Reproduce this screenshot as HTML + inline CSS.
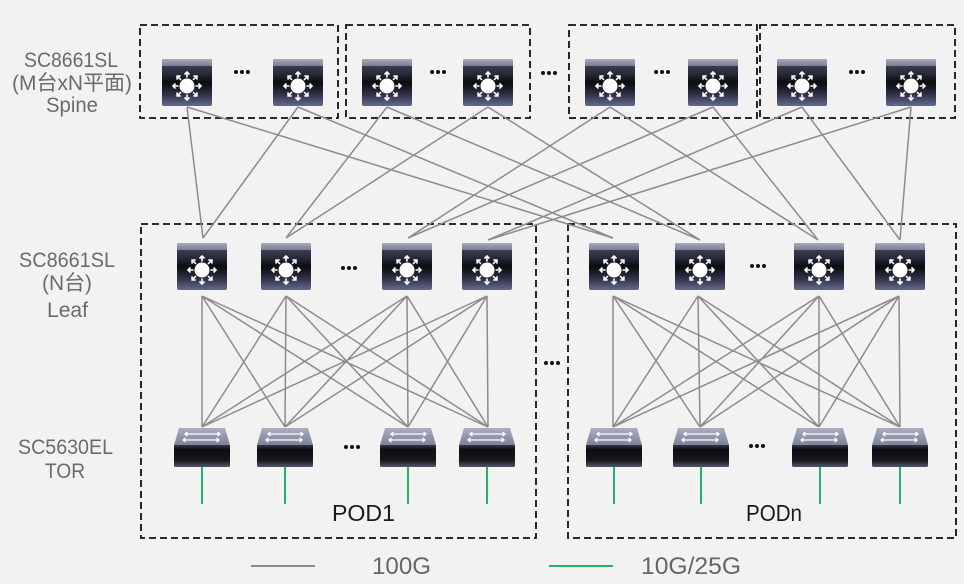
<!DOCTYPE html>
<html><head><meta charset="utf-8"><style>
html,body{margin:0;padding:0;background:#f2f2f2;}
svg{display:block;}
text{font-family:"Liberation Sans","Noto Sans CJK SC",sans-serif;}
</style></head><body>
<svg width="964" height="584" viewBox="0 0 964 584" xmlns="http://www.w3.org/2000/svg">
<defs>
<linearGradient id="gTop" x1="0" y1="0" x2="0" y2="1"><stop offset="0" stop-color="#a7aabb"/><stop offset="1" stop-color="#7b7f94"/></linearGradient>
<linearGradient id="gBody" x1="0" y1="0" x2="0" y2="1">
<stop offset="0" stop-color="#474a62"/><stop offset="0.3" stop-color="#2a2c3d"/><stop offset="0.5" stop-color="#0b0b10"/><stop offset="0.75" stop-color="#2e3045"/><stop offset="1" stop-color="#646a8c"/></linearGradient>
<linearGradient id="tTop" x1="0" y1="0" x2="0" y2="1"><stop offset="0" stop-color="#a9adbf"/><stop offset="1" stop-color="#7d8298"/></linearGradient>
<linearGradient id="tFront" x1="0" y1="0" x2="0" y2="1"><stop offset="0" stop-color="#3d3f52"/><stop offset="0.25" stop-color="#0d0d12"/><stop offset="0.7" stop-color="#16161e"/><stop offset="1" stop-color="#52566e"/></linearGradient>
<path id="arr" d="M25 18.5V13M22.5 15.5L25 13L27.5 15.5" fill="none" stroke="#fff" stroke-width="1.6"/>
<g id="l3">
<rect x="0" y="0" width="50" height="47" rx="2" fill="url(#gBody)"/>
<path d="M2 0H48Q50 0 50 2V7H0V2Q0 0 2 0Z" fill="url(#gTop)"/>
<circle cx="25" cy="27" r="7.5" fill="#fff"/>
<use href="#arr" transform="translate(0 0)"/>
<use href="#arr" transform="rotate(45 25 27)"/>
<use href="#arr" transform="rotate(90 25 27)"/>
<use href="#arr" transform="rotate(135 25 27)"/>
<use href="#arr" transform="rotate(180 25 27)"/>
<use href="#arr" transform="rotate(225 25 27)"/>
<use href="#arr" transform="rotate(270 25 27)"/>
<use href="#arr" transform="rotate(315 25 27)"/>
</g>
<g id="tor">
<rect x="0" y="16" width="56" height="23" rx="1.5" fill="url(#tFront)"/>
<path d="M5 0H51L56 17H0Z" fill="url(#tTop)"/>
<g stroke="#fff" stroke-width="1.3" fill="none">
<path d="M11 6H46M43.5 4L46 6L43.5 8"/>
<path d="M11 6M13.5 4L11 6L13.5 8"/>
<path d="M9 12H45M11.5 10L9 12L11.5 14"/>
<path d="M42.5 10L45 12L42.5 14"/>
</g>
</g>
</defs>

<!-- dashed boxes -->
<g fill="none" stroke="#111" stroke-width="1.8" stroke-dasharray="7 4">
<rect x="140" y="25" width="198" height="93"/>
<rect x="346" y="25" width="184" height="93"/>
<rect x="569" y="25" width="188" height="93"/>
<rect x="760" y="25" width="195" height="93"/>
<rect x="141" y="224" width="395" height="314"/>
<rect x="568" y="224" width="388" height="314"/>
</g>

<!-- spine-leaf lines -->
<g stroke="#8c8c8c" stroke-width="1.5" fill="none">
<path d="M187 107L203 238M298 107L203 238M387 107L286 238M488 107L286 238M610 107L408 238M713 107L408 238M802 107L488 240M911 107L488 240M187 107L613 238M298 107L613 238M387 107L700 240M488 107L700 240M610 107L818 240M713 107L818 240M802 107L900 240M911 107L900 240"/>
<!-- left mesh -->
<path d="M202 296L202 427M202 296L285 427M202 296L408 427M202 296L488 427
M286 296L202 427M286 296L285 427M286 296L408 427M286 296L488 427
M407 296L202 427M407 296L285 427M407 296L408 427M407 296L488 427
M487 296L202 427M487 296L285 427M487 296L408 427M487 296L488 427"/>
<!-- right mesh -->
<path d="M613 296L613 427M613 296L700 427M613 296L819 427M613 296L900 427
M698 296L613 427M698 296L700 427M698 296L819 427M698 296L900 427
M819 296L613 427M819 296L700 427M819 296L819 427M819 296L900 427
M899 296L613 427M899 296L700 427M899 296L819 427M899 296L900 427"/>
</g>

<!-- green lines -->
<g stroke="#21b36b" stroke-width="2">
<path d="M202 467V504M285 467V504M408 467V504M487 467V504M614 467V504M701 467V504M820 467V504M900 467V504"/>
</g>

<!-- spine icons -->
<use href="#l3" x="162" y="59"/>
<use href="#l3" x="273" y="59"/>
<use href="#l3" x="362" y="59"/>
<use href="#l3" x="463" y="59"/>
<use href="#l3" x="585" y="59"/>
<use href="#l3" x="688" y="59"/>
<use href="#l3" x="777" y="59"/>
<use href="#l3" x="886" y="59"/>
<!-- leaf icons -->
<use href="#l3" x="177" y="243"/>
<use href="#l3" x="261" y="243"/>
<use href="#l3" x="382" y="243"/>
<use href="#l3" x="462" y="243"/>
<use href="#l3" x="589" y="243"/>
<use href="#l3" x="675" y="243"/>
<use href="#l3" x="794" y="243"/>
<use href="#l3" x="875" y="243"/>
<!-- TOR icons -->
<use href="#tor" x="174" y="428"/>
<use href="#tor" x="257" y="428"/>
<use href="#tor" x="380" y="428"/>
<use href="#tor" x="459" y="428"/>
<use href="#tor" x="586" y="428"/>
<use href="#tor" x="673" y="428"/>
<use href="#tor" x="792" y="428"/>
<use href="#tor" x="872" y="428"/>

<!-- dots -->
<g fill="#111">
<circle cx="236" cy="72" r="2"/><circle cx="242" cy="72" r="2"/><circle cx="248" cy="72" r="2"/>
<circle cx="432" cy="72" r="2"/><circle cx="438" cy="72" r="2"/><circle cx="444" cy="72" r="2"/>
<circle cx="543" cy="73" r="2"/><circle cx="549" cy="73" r="2"/><circle cx="555" cy="73" r="2"/>
<circle cx="656" cy="72" r="2"/><circle cx="662" cy="72" r="2"/><circle cx="668" cy="72" r="2"/>
<circle cx="851" cy="72" r="2"/><circle cx="857" cy="72" r="2"/><circle cx="863" cy="72" r="2"/>
<circle cx="343" cy="268" r="2"/><circle cx="349" cy="268" r="2"/><circle cx="355" cy="268" r="2"/>
<circle cx="752" cy="266" r="2"/><circle cx="758" cy="266" r="2"/><circle cx="764" cy="266" r="2"/>
<circle cx="546" cy="363" r="2"/><circle cx="552" cy="363" r="2"/><circle cx="558" cy="363" r="2"/>
<circle cx="346" cy="447" r="2"/><circle cx="352" cy="447" r="2"/><circle cx="358" cy="447" r="2"/>
<circle cx="751" cy="446" r="2"/><circle cx="757" cy="446" r="2"/><circle cx="763" cy="446" r="2"/>
</g>

<!-- left labels -->
<g fill="#6b6b6b" font-size="21">
<text x="24" y="67" textLength="94" lengthAdjust="spacingAndGlyphs">SC8661SL</text>
<text x="12" y="90" textLength="120" lengthAdjust="spacingAndGlyphs">(M台xN平面)</text>
<text x="46" y="112" textLength="52" lengthAdjust="spacingAndGlyphs">Spine</text>
<text x="19" y="267" textLength="96" lengthAdjust="spacingAndGlyphs">SC8661SL</text>
<text x="42" y="290" textLength="50" lengthAdjust="spacingAndGlyphs">(N台)</text>
<text x="47" y="317" textLength="41" lengthAdjust="spacingAndGlyphs">Leaf</text>
<text x="18" y="454" textLength="95" lengthAdjust="spacingAndGlyphs">SC5630EL</text>
<text x="45" y="478" textLength="40" lengthAdjust="spacingAndGlyphs">TOR</text>
</g>

<!-- pod labels -->
<g fill="#1a1a1a" font-size="23">
<text x="332" y="521" textLength="63" lengthAdjust="spacingAndGlyphs">POD1</text>
<text x="746" y="521" textLength="56" lengthAdjust="spacingAndGlyphs">PODn</text>
</g>

<!-- legend -->
<path d="M251 566H315" stroke="#8c8c8c" stroke-width="2"/>
<path d="M549 566H613" stroke="#21b36b" stroke-width="2"/>
<g fill="#666" font-size="24">
<text x="372" y="574" textLength="59" lengthAdjust="spacingAndGlyphs">100G</text>
<text x="641" y="574" textLength="100" lengthAdjust="spacingAndGlyphs">10G/25G</text>
</g>
</svg>
</body></html>
